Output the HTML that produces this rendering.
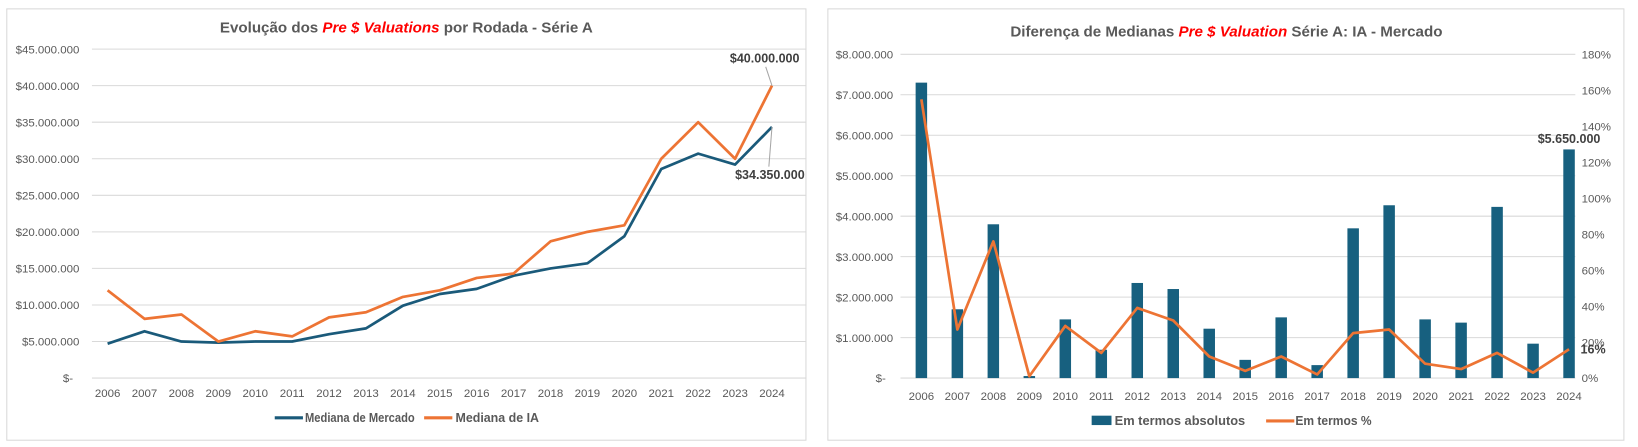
<!DOCTYPE html>
<html><head><meta charset="utf-8"><style>
body{margin:0;background:#fff}
svg{display:block;font-family:"Liberation Sans Narrow","Liberation Sans",sans-serif}
.t{fill:#595959;font-size:11px}
.ti{fill:#595959;font-size:14.5px;font-weight:bold}
.lg{fill:#595959;font-size:12.5px;font-weight:bold}
.dl{fill:#404040;font-size:12px;font-weight:bold}
</style></head><body>
<svg id="svg" width="1638" height="447" viewBox="0 0 1568 428" preserveAspectRatio="none" xmlns="http://www.w3.org/2000/svg">
<rect x="6.5" y="8.5" width="765" height="413" fill="#fff" stroke="#d9d9d9"/>
<rect x="792.5" y="8.5" width="762" height="413" fill="#fff" stroke="#d9d9d9"/>
<text x="389" y="31" text-anchor="middle" class="ti">Evolução dos <tspan fill="#ff0000" font-style="italic">Pre $ Valuations</tspan> por Rodada - Série A</text>
<text x="1174" y="35" text-anchor="middle" class="ti">Diferença de Medianas <tspan fill="#ff0000" font-style="italic">Pre $ Valuation</tspan> Série A: IA - Mercado</text>
<g id="L"></g><g id="R"></g>
<g>
<line x1="263" y1="400" x2="290" y2="400" stroke="#1a5a7a" stroke-width="3"/>
<text x="292" y="404" class="lg" textLength="105" lengthAdjust="spacingAndGlyphs">Mediana de Mercado</text>
<line x1="406" y1="400" x2="433" y2="400" stroke="#ed7434" stroke-width="3"/>
<text x="436" y="404" class="lg" textLength="80" lengthAdjust="spacingAndGlyphs">Mediana de IA</text>
</g>
<g>
<rect x="1045" y="398" width="19" height="9" fill="#17607f"/>
<text x="1067" y="407" class="lg" textLength="125" lengthAdjust="spacingAndGlyphs">Em termos absolutos</text>
<line x1="1212" y1="403" x2="1239" y2="403" stroke="#ed7434" stroke-width="3"/>
<text x="1240" y="407" class="lg" textLength="73" lengthAdjust="spacingAndGlyphs">Em termos %</text>
</g>
</svg>
<script>
const years=["2006","2007","2008","2009","2010","2011","2012","2013","2014","2015","2016","2017","2018","2019","2020","2021","2022","2023","2024"];
const mercado=[4.7,6.4,5.0,4.85,5.0,5.0,6.0,6.8,9.9,11.5,12.2,14.0,15.0,15.7,19.4,28.6,30.7,29.2,34.35];
const ia=[12.0,8.1,8.7,5.0,6.4,5.7,8.3,9.0,11.1,12.0,13.7,14.3,18.7,20.0,20.9,30.0,35.0,30.0,40.0];
const leftTicks=["$-","$5.000.000","$10.000.000","$15.000.000","$20.000.000","$25.000.000","$30.000.000","$35.000.000","$40.000.000","$45.000.000"];
const diffAbs=[7.3,1.7,3.8,0.05,1.45,0.7,2.35,2.2,1.22,0.45,1.5,0.32,3.7,4.27,1.45,1.37,4.23,0.85,5.65];
const diffPct=[155,27,76,1,29,14,39,32,12,4,12,2,25,27,8,5,14,3,16];
const rightTicks=["$-","$1.000.000","$2.000.000","$3.000.000","$4.000.000","$5.000.000","$6.000.000","$7.000.000","$8.000.000"];
const pctTicks=["0%","20%","40%","60%","80%","100%","120%","140%","160%","180%"];
const NS="http://www.w3.org/2000/svg";
function mk(p,tag,at){const e=document.createElementNS(NS,tag);for(const k in at)e.setAttribute(k,at[k]);p.appendChild(e);return e;}
// Left chart
const L=document.getElementById('L');
const lx=i=>103+i*(739-103)/(years.length-1);
const ly=v=>362-v*(362-47)/45;
leftTicks.forEach((t,i)=>{
 const y=ly(i*5);
 const g=mk(L,'line',{x1:88,x2:772,y1:y,y2:y,stroke:'#d9d9d9'});
 
 
 const tx=mk(L,'text',{x:i==0?70:76,y:y+4,'text-anchor':'end',class:'t'});tx.textContent=t;
 
 
});
years.forEach((yr,i)=>{const tx=mk(L,'text',{x:lx(i),y:380,'text-anchor':'middle',class:'t'});tx.textContent=yr;
 
 });
const pm=mk(L,'polyline',{points:mercado.map((v,i)=>lx(i)+','+ly(v)).join(' '),fill:'none',stroke:'#1a5a7a','stroke-width':2.6,'stroke-linejoin':'round'});


const pi=mk(L,'polyline',{points:ia.map((v,i)=>lx(i)+','+ly(v)).join(' '),fill:'none',stroke:'#ed7434','stroke-width':2.6,'stroke-linejoin':'round'});


const n=years.length-1;
let ld=mk(L,'line',{x1:lx(n),y1:ly(ia[n]),x2:lx(n)-6,y2:ly(ia[n])-18,stroke:'#a6a6a6'});


let lb=mk(L,'text',{x:lx(n)-7,y:ly(ia[n])-22,'text-anchor':'middle',class:'dl'});lb.textContent='$40.000.000';


ld=mk(L,'line',{x1:lx(n),y1:ly(mercado[n]),x2:lx(n)-3,y2:ly(mercado[n])+38,stroke:'#a6a6a6'});


lb=mk(L,'text',{x:lx(n)-2,y:ly(mercado[n])+50,'text-anchor':'middle',class:'dl'});lb.textContent='$34.350.000';


// Right chart
const R=document.getElementById('R');
const rx=i=>882+i*(1502-882)/(years.length-1);
const ry=v=>362-v*(362-52)/8;
const rp=v=>362-v*(362-52)/180;
rightTicks.forEach((t,i)=>{
 const y=ry(i);
 const g=mk(R,'line',{x1:862,x2:1508,y1:y,y2:y,stroke:'#d9d9d9'});
 
 
 const tx=mk(R,'text',{x:i==0?848:855,y:y+4,'text-anchor':'end',class:'t'});tx.textContent=t;
 
 
});
pctTicks.forEach((t,i)=>{const tx=mk(R,'text',{x:1514,y:rp(i*20)+4,class:'t'});tx.textContent=t;
 
 });
years.forEach((yr,i)=>{const tx=mk(R,'text',{x:rx(i),y:383,'text-anchor':'middle',class:'t'});tx.textContent=yr;
 
 });
diffAbs.forEach((v,i)=>{const b=mk(R,'rect',{x:rx(i)-5.5,y:ry(v),width:11,height:362-ry(v),fill:'#17607f'});
 
 });
const pp=mk(R,'polyline',{points:diffPct.map((v,i)=>rx(i)+','+rp(v)).join(' '),fill:'none',stroke:'#ed7434','stroke-width':2.6,'stroke-linejoin':'round'});


lb=mk(R,'text',{x:rx(n),y:ry(diffAbs[n])-6,'text-anchor':'middle',class:'dl'});lb.textContent='$5.650.000';


lb=mk(R,'text',{x:rx(n)+11,y:rp(diffPct[n])+4,class:'dl'});lb.textContent=diffPct[n]+'%';


</script>
</body></html>
